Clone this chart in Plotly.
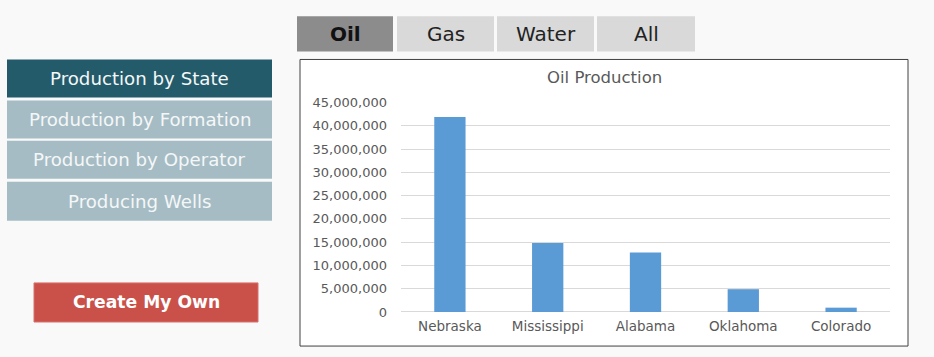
import plotly.graph_objects as go

states = ["Nebraska", "Mississippi", "Alabama", "Oklahoma", "Colorado"]
oil_production = [41900000, 14800000, 12800000, 4900000, 930000]
y_ticks = [0, 5000000, 10000000, 15000000, 20000000, 25000000, 30000000, 35000000, 40000000, 45000000]
tab_labels = ["Oil", "Gas", "Water", "All"]
menu_labels = ["Production by State", "Production by Formation", "Production by Operator", "Producing Wells"]
chart_title = "Oil Production"
action_label = "Create My Own"

W, H = 934, 357
FONT = "DejaVu Sans, Arial, sans-serif"
# the page is photographed with a small vertical offset / squeeze; compensate
V_OFF, V_SCALE = 7.65, 0.956

def px(x):
    return x / W

def py(y):
    return 1 - ((y - V_OFF) / V_SCALE) / H

fig = go.Figure()
fig.add_trace(go.Bar(x=states, y=oil_production, marker=dict(color="#5b9bd5", line=dict(width=0)),
                     hoverinfo="x+y"))

shapes = []
annotations = []

# chart frame
shapes.append(dict(type="rect", xref="paper", yref="paper", x0=px(300), x1=px(908), y0=py(346), y1=py(60),
                   fillcolor="white", line=dict(color="#404040", width=1), layer="below"))

# tabs
tab_x = [(297, 393), (397, 494), (497, 594), (597, 695)]
for i, (lab, (x0, x1)) in enumerate(zip(tab_labels, tab_x)):
    active = i == 0
    shapes.append(dict(type="rect", xref="paper", yref="paper", x0=px(x0), x1=px(x1), y0=py(52), y1=py(17),
                       fillcolor="#8c8c8c" if active else "#d9d9d9", line=dict(width=0), layer="below"))
    annotations.append(dict(x=px((x0 + x1) / 2), y=py(34.5), xref="paper", yref="paper", showarrow=False,
                            text=f"<b>{lab}</b>" if active else lab,
                            font=dict(family=FONT, size=20, color="#111111" if active else "#222222"),
                            xanchor="center", yanchor="middle"))

# left menu
menu_y = [(60, 98), (101, 139), (141, 179), (182, 221)]
for i, (lab, (y0, y1)) in enumerate(zip(menu_labels, menu_y)):
    shapes.append(dict(type="rect", xref="paper", yref="paper", x0=px(7), x1=px(272), y0=py(y1), y1=py(y0),
                       fillcolor="#245b6b" if i == 0 else "#a6bcc4", line=dict(width=0), layer="below"))
    annotations.append(dict(x=px(139.5), y=py((y0 + y1) / 2), xref="paper", yref="paper", showarrow=False,
                            text=lab, font=dict(family=FONT, size=18.2, color="#f4f7f8"),
                            xanchor="center", yanchor="middle"))

# action button
shapes.append(dict(type="rect", xref="paper", yref="paper", x0=px(34), x1=px(258), y0=py(322), y1=py(283),
                   fillcolor="#c9514a", line=dict(color="#d9706a", width=1), layer="below"))
annotations.append(dict(x=px(146), y=py(302.5), xref="paper", yref="paper", showarrow=False,
                        text=f"<b>{action_label}</b>", font=dict(family=FONT, size=17.2, color="white"),
                        xanchor="center", yanchor="middle"))

# chart title
annotations.append(dict(x=px(604), y=py(78.5), xref="paper", yref="paper", showarrow=False,
                        text=chart_title, font=dict(family=FONT, size=16.5, color="#595959"),
                        xanchor="center", yanchor="middle"))

fig.update_layout(
    width=W, height=H,
    margin=dict(l=0, r=0, t=0, b=0),
    paper_bgcolor="#f9f9f9",
    plot_bgcolor="white",
    showlegend=False,
    bargap=0.68,
    shapes=shapes,
    annotations=annotations,
    font=dict(family=FONT, color="#595959"),
    xaxis=dict(domain=[px(401), px(890)], showgrid=False, showline=False, ticks="",
               tickfont=dict(family=FONT, size=13.5, color="#595959"), ticklabelstandoff=5),
    yaxis=dict(domain=[py(312), py(103)], range=[0, 45000000], tickvals=y_ticks, tickformat=",d",
               showgrid=True, gridcolor="#d9d9d9", gridwidth=1, zeroline=True, zerolinecolor="#d9d9d9",
               zerolinewidth=1, showline=False, ticks="", ticklabelstandoff=13,
               tickfont=dict(family=FONT, size=13, color="#595959")),
)

fig.write_html("out.html")
